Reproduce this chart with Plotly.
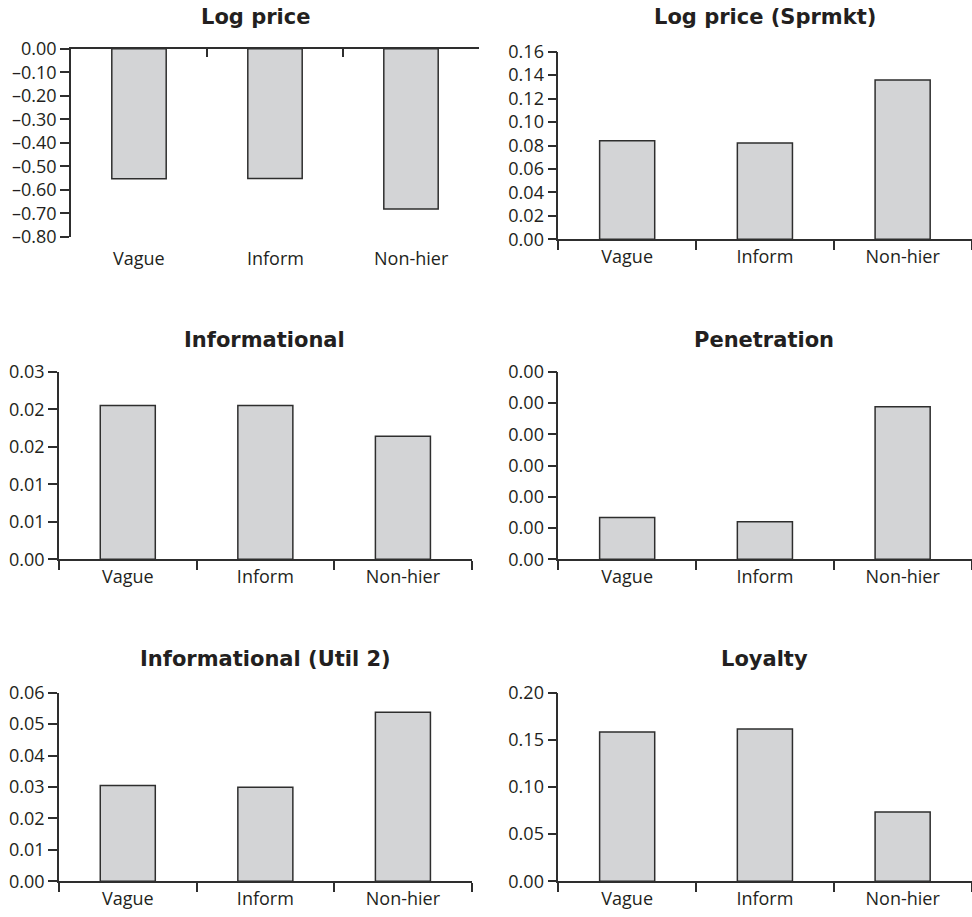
import plotly.graph_objects as go

# Categories shared by every panel
categories = ["Vague", "Inform", "Non-hier"]

# Panel titles
titles = ["Log price", "Log price (Sprmkt)", "Informational",
          "Penetration", "Informational (Util 2)", "Loyalty"]

# Series values per panel
log_price = [-0.553, -0.551, -0.681]
log_price_sprmkt = [0.0841, 0.0821, 0.1359]
informational = [0.0205, 0.0205, 0.0164]
penetration = [0.00067, 0.00060, 0.00244]
informational_util2 = [0.0305, 0.0299, 0.0538]
loyalty = [0.1583, 0.1615, 0.0735]

# Y-axis tick values and labels per panel
ticks_log_price = [0.0, -0.1, -0.2, -0.3, -0.4, -0.5, -0.6, -0.7, -0.8]
labels_log_price = ["0.00", "\u20130.10", "\u20130.20", "\u20130.30", "\u20130.40",
                    "\u20130.50", "\u20130.60", "\u20130.70", "\u20130.80"]
ticks_sprmkt = [0.0, 0.02, 0.04, 0.06, 0.08, 0.10, 0.12, 0.14, 0.16]
labels_sprmkt = ["0.00", "0.02", "0.04", "0.06", "0.08", "0.10", "0.12", "0.14", "0.16"]
ticks_informational = [0.0, 0.005, 0.010, 0.015, 0.020, 0.025]
labels_informational = ["0.00", "0.01", "0.01", "0.02", "0.02", "0.03"]
ticks_penetration = [0.0, 0.0005, 0.0010, 0.0015, 0.0020, 0.0025, 0.0030]
labels_penetration = ["0.00", "0.00", "0.00", "0.00", "0.00", "0.00", "0.00"]
ticks_util2 = [0.0, 0.01, 0.02, 0.03, 0.04, 0.05, 0.06]
labels_util2 = ["0.00", "0.01", "0.02", "0.03", "0.04", "0.05", "0.06"]
ticks_loyalty = [0.0, 0.05, 0.10, 0.15, 0.20]
labels_loyalty = ["0.00", "0.05", "0.10", "0.15", "0.20"]

W, H = 972, 917
FONT = "Open Sans"
TITLE_FONT = "DejaVu Sans"
INK = "#231f20"
LINE = "#2e2e2e"
BAR_FILL = "#d3d4d6"
TICK_SIZE = 18

panels = [
    dict(vals=log_price, tv=ticks_log_price, tt=labels_log_price,
         yr=[-0.8, 0.0], px=(71, 479), py=(48.7, 237.0), title_at=(255.5, 17)),
    dict(vals=log_price_sprmkt, tv=ticks_sprmkt, tt=labels_sprmkt,
         yr=[0.0, 0.16], px=(558.3, 971.5), py=(51.7, 239.3), title_at=(764.5, 17)),
    dict(vals=informational, tv=ticks_informational, tt=labels_informational,
         yr=[0.0, 0.025], px=(59, 471.7), py=(371.7, 559.3), title_at=(264.5, 340)),
    dict(vals=penetration, tv=ticks_penetration, tt=labels_penetration,
         yr=[0.0, 0.003], px=(558.3, 971.5), py=(371.7, 559.3), title_at=(764, 340)),
    dict(vals=informational_util2, tv=ticks_util2, tt=labels_util2,
         yr=[0.0, 0.06], px=(59, 471.7), py=(692.7, 881.3), title_at=(265, 659)),
    dict(vals=loyalty, tv=ticks_loyalty, tt=labels_loyalty,
         yr=[0.0, 0.20], px=(558.3, 971.5), py=(692.7, 881.3), title_at=(764.7, 659)),
]

fig = go.Figure()
annotations = []
layout_axes = {}

for i, (p, title) in enumerate(zip(panels, titles), start=1):
    xa = "x" if i == 1 else f"x{i}"
    ya = "y" if i == 1 else f"y{i}"
    fig.add_trace(go.Bar(
        x=categories, y=p["vals"], xaxis=xa, yaxis=ya,
        marker=dict(color=BAR_FILL, line=dict(color=LINE, width=1.5)),
        showlegend=False, hoverinfo="x+y",
    ))
    xdom = [p["px"][0] / W, p["px"][1] / W]
    ydom = [1 - p["py"][1] / H, 1 - p["py"][0] / H]
    negative = p["yr"][1] <= 0

    xaxis = dict(
        domain=xdom, anchor=ya, type="category", range=[-0.5, 2.5],
        showline=True, linecolor=LINE, linewidth=1.5,
        ticks="inside" if negative else "outside", tickson="boundaries",
        ticklen=9, tickwidth=1.5, tickcolor=LINE,
        showgrid=False, zeroline=False, fixedrange=True, automargin=False,
        tickfont=dict(family=FONT, size=TICK_SIZE, color=INK),
    )
    if negative:
        # Bars hang from the zero line at the top; category names sit below.
        xaxis.update(side="top", showticklabels=False)
        for c in categories:
            annotations.append(dict(
                x=c, xref=xa, y=ydom[0], yref="paper", yshift=-21,
                text=c, showarrow=False, xanchor="center", yanchor="middle",
                font=dict(family=FONT, size=TICK_SIZE, color=INK),
            ))
    yaxis = dict(
        domain=ydom, anchor=xa, range=p["yr"],
        tickmode="array", tickvals=p["tv"], ticktext=p["tt"],
        showline=True, linecolor=LINE, linewidth=1.5,
        ticks="outside", ticklen=9, tickwidth=1.5, tickcolor=LINE,
        showgrid=False, zeroline=False, fixedrange=True, automargin=False,
        tickfont=dict(family=FONT, size=TICK_SIZE, color=INK),
    )
    layout_axes["xaxis" if i == 1 else f"xaxis{i}"] = xaxis
    layout_axes["yaxis" if i == 1 else f"yaxis{i}"] = yaxis

    annotations.append(dict(
        x=p["title_at"][0] / W, y=1 - p["title_at"][1] / H,
        xref="paper", yref="paper", text=f"<b>{title}</b>",
        showarrow=False, xanchor="center", yanchor="middle",
        font=dict(family=TITLE_FONT, size=21, color=INK),
    ))

fig.update_layout(
    template=None,
    width=W, height=H,
    margin=dict(l=0, r=0, t=0, b=0, pad=0),
    paper_bgcolor="white", plot_bgcolor="white",
    bargap=0.6,
    annotations=annotations,
    **layout_axes,
)

fig.write_html("out.html")
